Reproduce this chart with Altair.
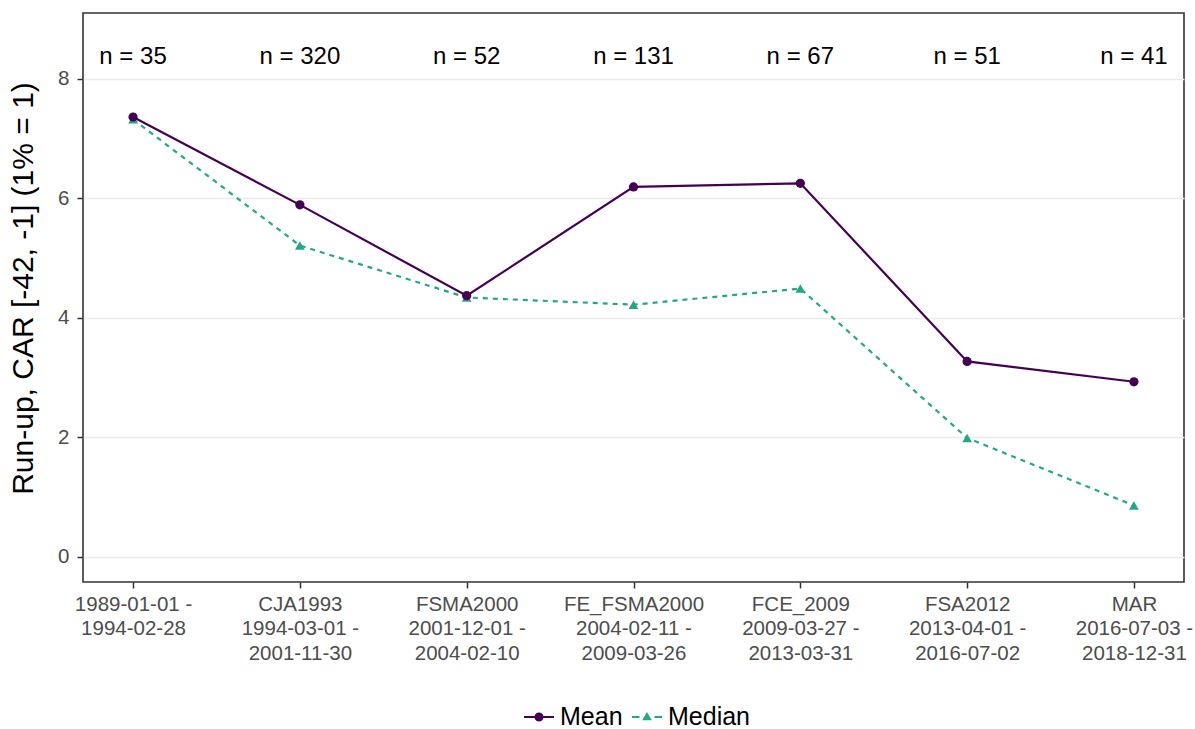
import math
import altair as alt
import pandas as pd

# Regulatory periods (label lines separated by "|")
periods = [
    "1989-01-01 -|1994-02-28",
    "CJA1993|1994-03-01 -|2001-11-30",
    "FSMA2000|2001-12-01 -|2004-02-10",
    "FE_FSMA2000|2004-02-11 -|2009-03-26",
    "FCE_2009|2009-03-27 -|2013-03-31",
    "FSA2012|2013-04-01 -|2016-07-02",
    "MAR|2016-07-03 -|2018-12-31",
]
mean_car = [7.36, 5.89, 4.37, 6.19, 6.25, 3.27, 2.93]
median_car = [7.32, 5.21, 4.34, 4.22, 4.49, 1.99, 0.86]
n_events = [35, 320, 52, 131, 67, 51, 41]
series_names = ["Mean", "Median"]
series_colors = ["#440154", "#22A884"]
N_LABEL_Y = 8.37

FONT = "Liberation Sans"
MEAN_COLOR, MEDIAN_COLOR = series_colors

rows = []
for name, vals in (("Median", median_car), ("Mean", mean_car)):
    for p, v in zip(periods, vals):
        rows.append({"period": p, "value": v, "series": name})
df = pd.DataFrame(rows)
df_n = pd.DataFrame({"period": periods, "label": [f"n = {n}" for n in n_events]})

x_enc = alt.X(
    "period:N",
    sort=periods,
    scale=alt.Scale(type="point", padding=0.3),
    axis=alt.Axis(
        title=None,
        labelExpr="split(datum.label, '|')",
        labelAngle=0,
        labelAlign="center",
        labelBaseline="top",
        labelLineHeight=24.5,
        labelFontSize=20.5,
        labelPadding=6,
        grid=False,
    ),
)
y_enc = alt.Y(
    "value:Q",
    scale=alt.Scale(domain=[-0.42, 9.1], nice=False, zero=False),
    axis=alt.Axis(
        values=[0, 2, 4, 6, 8],
        format="d",
        title="Run-up, CAR [-42, -1] (1% = 1)",
        titleFontSize=30,
        titleFontWeight="normal",
        titleColor="black",
        titlePadding=19,
        titleY=275,
        labelFontSize=20.5,
        labelPadding=8,
        grid=True,
        gridColor="#EBEBEB",
        gridWidth=1.5,
    ),
)


def series_layer(name):
    return alt.Chart(df).transform_filter(alt.datum.series == name)


median_line = series_layer("Median").mark_line(
    strokeWidth=2.2, color=MEDIAN_COLOR, strokeDash=[5, 5]
).encode(x=x_enc, y=y_enc)
mean_line = series_layer("Mean").mark_line(
    strokeWidth=2.2, color=MEAN_COLOR
).encode(x=x_enc, y=y_enc)
median_pts = series_layer("Median").mark_point(
    filled=True, opacity=1, shape="triangle-up", size=95, color=MEDIAN_COLOR
).encode(x=x_enc, y=y_enc)
mean_pts = series_layer("Mean").mark_point(
    filled=True, opacity=1, shape="circle", size=85, color=MEAN_COLOR
).encode(x=x_enc, y=y_enc)


def bar(x0, x1, h=0.07):
    return f"M{x0},{-h}L{x1},{-h}L{x1},{h}L{x0},{h}Z"


def disc(r, n=20):
    pts = [
        (r * math.cos(2 * math.pi * k / n), r * math.sin(2 * math.pi * k / n))
        for k in range(n)
    ]
    return "M" + "L".join(f"{x:.3f},{y:.3f}" for x, y in pts) + "Z"


# Key glyphs: line (solid / dashed) drawn through the point symbol
key_paths = [
    bar(-1, 1) + disc(0.3),
    bar(-1, -0.5) + bar(0.5, 1) + "M0,-0.34L0.32,0.22L-0.32,0.22Z",
]
legend_def = alt.Legend(
    title=None,
    orient="none",
    legendX=440,
    legendY=688,
    direction="horizontal",
    symbolSize=900,
    symbolOpacity=1,
    labelFontSize=25,
    labelColor="black",
    labelFont=FONT,
    labelOffset=5,
    columnPadding=6,
    padding=0,
)
# Invisible layer that only carries the key
key = (
    alt.Chart(df)
    .mark_point(filled=True, opacity=0)
    .encode(
        x=x_enc,
        y=y_enc,
        fill=alt.Fill(
            "series:N",
            scale=alt.Scale(domain=series_names, range=series_colors),
            legend=legend_def,
        ),
        shape=alt.Shape(
            "series:N",
            scale=alt.Scale(domain=series_names, range=key_paths),
            legend=legend_def,
        ),
    )
)

counts = alt.Chart(df_n).mark_text(
    fontSize=24, color="black", font=FONT, baseline="middle"
).encode(
    x=alt.X("period:N", sort=periods),
    y=alt.datum(N_LABEL_Y),
    text="label:N",
)

chart = (
    alt.layer(median_line, mean_line, median_pts, mean_pts, counts, key)
    .properties(
        width=1101,
        height=569,
        autosize=alt.AutoSizeParams(type="none"),
        padding={"left": 83, "top": 13, "right": 11, "bottom": 147},
        background="white",
    )
    .configure_view(stroke="#333333", strokeWidth=1.6)
    .configure_axis(
        domain=False,
        tickColor="#333333",
        tickWidth=1.5,
        tickSize=6,
        labelColor="#4D4D4D",
        labelFont=FONT,
        titleFont=FONT,
    )
)

chart.save("out.html", embed_options={"renderer": "svg", "actions": False})
